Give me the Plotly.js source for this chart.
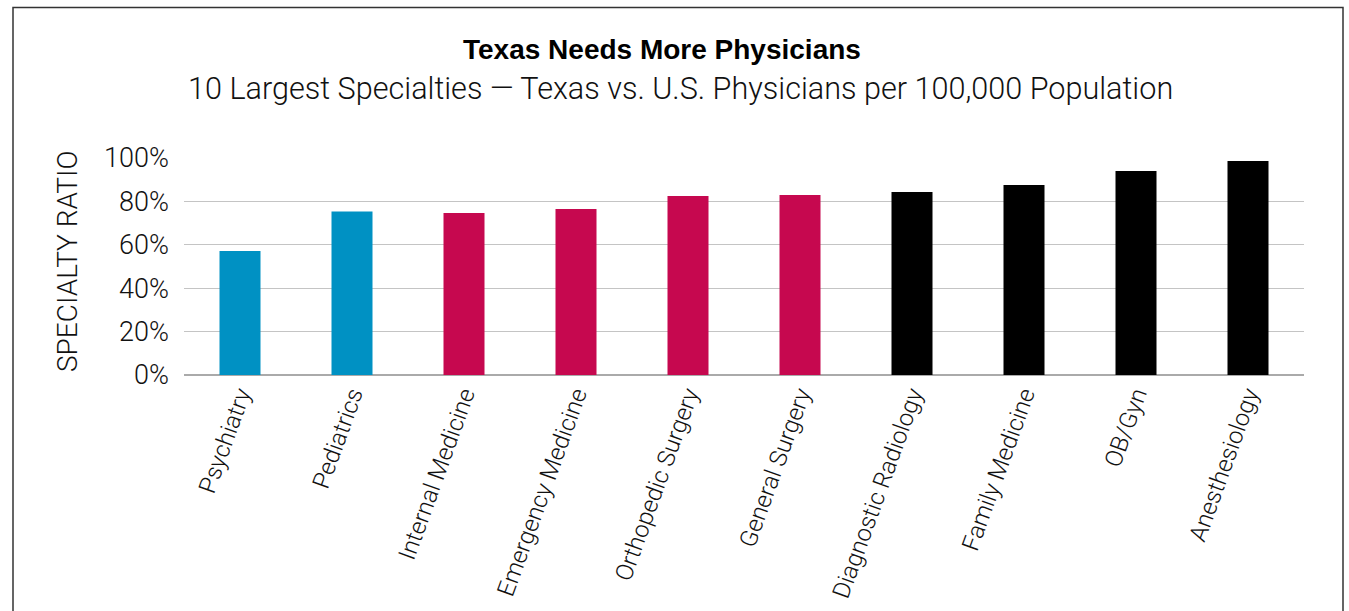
<!DOCTYPE html>
<html>
<head>
<meta charset="utf-8">
<script src="https://cdn.plot.ly/plotly-3.0.1.min.js"></script>
<style>
  html, body { margin: 0; padding: 0; background: #fff; }
  #chart { width: 1349px; height: 611px; }
</style>
</head>
<body>
<div id="chart"></div>
<script>
const categories = ["Psychiatry", "Pediatrics", "Internal Medicine", "Emergency Medicine",
  "Orthopedic Surgery", "General Surgery", "Diagnostic Radiology", "Family Medicine",
  "OB/Gyn", "Anesthesiology"];
const ratios = [0.571, 0.753, 0.747, 0.765, 0.825, 0.830, 0.843, 0.876, 0.940, 0.986];
const groups = ["blue", "blue", "red", "red", "red", "red", "black", "black", "black", "black"];
const groupColors = { blue: "#0091C3", red: "#C6084F", black: "#000000" };
const yTicks = [0, 0.2, 0.4, 0.6, 0.8, 1.0];
const yTickLabels = ["0%", "20%", "40%", "60%", "80%", "100%"];
const titleText = "Texas Needs More Physicians";
const subtitleText = "10 Largest Specialties — Texas vs. U.S. Physicians per 100,000 Population";
const yTitle = "SPECIALTY RATIO";

const lightFont = "Roboto, 'Liberation Sans', Arial, sans-serif";

const trace = {
  type: "bar",
  x: categories,
  y: ratios,
  width: 0.366,
  marker: { color: groups.map(g => groupColors[g]), line: { width: 0 } },
  hoverinfo: "x+y"
};

const ml = 184, mr = 45, mt = 158, mb = 236;
const W = 1349, H = 611;
const pw = W - ml - mr, ph = H - mt - mb;
const px = v => (v - ml) / pw;
const py = v => (H - mb - v) / ph;

const layout = {
  width: W, height: H,
  margin: { l: ml, r: mr, t: mt, b: mb, pad: 0 },
  paper_bgcolor: "#fff",
  plot_bgcolor: "#fff",
  showlegend: false,
  xaxis: {
    type: "category",
    tickangle: -70,
    tickfont: { family: lightFont, size: 24, color: "#111", weight: 300 },
    showgrid: false,
    zeroline: false,
    showline: false,
    ticks: "",
    automargin: false
  },
  yaxis: {
    range: [0, 1.0],
    tickvals: yTicks,
    ticktext: yTickLabels,
    tickfont: { family: lightFont, size: 27, color: "#111", weight: 300 },
    showgrid: true,
    gridcolor: "#c4c4c4",
    gridwidth: 1.2,
    zeroline: true,
    zerolinecolor: "#aaaaaa",
    zerolinewidth: 1.5,
    showline: false,
    ticks: "",
    ticklabelstandoff: 14,
    automargin: false
  },
  annotations: [
    {
      text: titleText, xref: "paper", yref: "paper",
      x: px(662), y: py(50), xanchor: "center", yanchor: "middle", showarrow: false,
      font: { family: "'Liberation Sans', Arial, sans-serif", size: 28, color: "#000", weight: 700 }
    },
    {
      text: subtitleText, xref: "paper", yref: "paper",
      x: px(680), y: py(88), xanchor: "center", yanchor: "middle", showarrow: false,
      font: { family: lightFont, size: 30.6, color: "#111", weight: 300 }
    },
    {
      text: yTitle, xref: "paper", yref: "paper",
      x: px(67), y: py(262), xanchor: "center", yanchor: "middle", showarrow: false,
      textangle: -90,
      font: { family: lightFont, size: 28, color: "#111", weight: 300 }
    }
  ],
  shapes: [
    {
      type: "rect", xref: "paper", yref: "paper",
      x0: px(13), x1: px(1343), y0: py(620), y1: py(7.5),
      line: { color: "#333", width: 1.5 }, fillcolor: "rgba(0,0,0,0)", layer: "below"
    }
  ]
};

Plotly.newPlot("chart", [trace], layout, { displayModeBar: false, staticPlot: true });
</script>
</body>
</html>
